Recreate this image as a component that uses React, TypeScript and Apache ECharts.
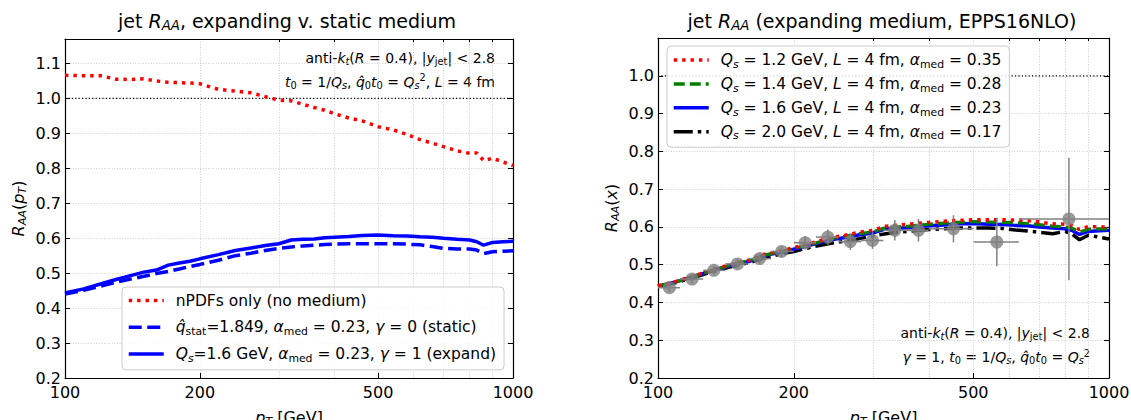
import React, { useEffect, useRef } from "react";
import * as echarts from "echarts";

// ---------------- data ----------------
const PT_GRID = [100, 110, 120, 130, 140, 150, 160, 170, 180, 190, 200, 220, 240, 260, 280, 300, 320, 340, 360, 380, 400, 430, 460, 500, 540, 580, 620, 660, 700, 750, 800, 830, 860, 900, 950, 1000];

const NPDF_ONLY = [1.066, 1.065, 1.065, 1.055, 1.054, 1.056, 1.05, 1.046, 1.045, 1.044, 1.042, 1.026, 1.021, 1.016, 1.005, 0.995, 0.993, 0.983, 0.974, 0.966, 0.956, 0.944, 0.936, 0.919, 0.91, 0.897, 0.882, 0.872, 0.862, 0.85, 0.843, 0.844, 0.822, 0.829, 0.818, 0.808];
const STATIC_QHAT = [0.44, 0.451, 0.463, 0.474, 0.483, 0.491, 0.499, 0.505, 0.512, 0.519, 0.525, 0.537, 0.55, 0.557, 0.565, 0.571, 0.575, 0.578, 0.58, 0.582, 0.583, 0.584, 0.584, 0.584, 0.584, 0.583, 0.581, 0.576, 0.571, 0.569, 0.569, 0.566, 0.556, 0.561, 0.563, 0.564];
const EXPAND_QS16 = [0.443, 0.455, 0.469, 0.482, 0.493, 0.503, 0.509, 0.523, 0.529, 0.534, 0.541, 0.553, 0.565, 0.572, 0.579, 0.584, 0.595, 0.597, 0.598, 0.601, 0.603, 0.605, 0.608, 0.609, 0.607, 0.606, 0.604, 0.603, 0.6, 0.597, 0.595, 0.59, 0.58, 0.588, 0.59, 0.591];
const EXPAND_QS12 = [0.444, 0.456, 0.47, 0.483, 0.495, 0.505, 0.512, 0.526, 0.532, 0.538, 0.545, 0.558, 0.571, 0.578, 0.586, 0.591, 0.602, 0.605, 0.607, 0.61, 0.612, 0.615, 0.617, 0.619, 0.619, 0.619, 0.618, 0.617, 0.613, 0.608, 0.607, 0.603, 0.593, 0.601, 0.6, 0.6];
const EXPAND_QS14 = [0.443, 0.455, 0.469, 0.482, 0.494, 0.504, 0.511, 0.524, 0.53, 0.536, 0.543, 0.555, 0.568, 0.575, 0.582, 0.587, 0.598, 0.6, 0.602, 0.605, 0.607, 0.61, 0.612, 0.614, 0.613, 0.612, 0.611, 0.609, 0.606, 0.602, 0.6, 0.596, 0.586, 0.594, 0.595, 0.595];
const EXPAND_QS20 = [0.442, 0.453, 0.466, 0.479, 0.49, 0.499, 0.506, 0.516, 0.523, 0.53, 0.535, 0.547, 0.556, 0.562, 0.569, 0.576, 0.582, 0.586, 0.588, 0.591, 0.593, 0.595, 0.597, 0.597, 0.597, 0.596, 0.592, 0.589, 0.586, 0.582, 0.588, 0.58, 0.566, 0.578, 0.573, 0.568];

const ATLAS_PT = [106, 119, 133, 150, 168, 188, 212, 238, 267, 299, 335, 378, 452, 564, 815];
const ATLAS_RAA = [0.439, 0.462, 0.485, 0.502, 0.516, 0.535, 0.558, 0.573, 0.561, 0.564, 0.591, 0.591, 0.595, 0.56, 0.621];
const ATLAS_ERR = [0.012, 0.012, 0.012, 0.013, 0.014, 0.015, 0.018, 0.02, 0.022, 0.022, 0.027, 0.03, 0.036, 0.064, 0.162];
const ATLAS_BIN_LO = [100, 112, 126, 141, 158, 178, 200, 224, 251, 282, 316, 355, 398, 501, 631];
const ATLAS_BIN_HI = [112, 126, 141, 158, 178, 200, 224, 251, 282, 316, 355, 398, 501, 631, 1000];

const X_MAJOR = [100, 200, 500, 1000];
const X_MINOR = [300, 400, 600, 700, 800, 900];
const Y_TICKS_L = [0.2, 0.3, 0.4, 0.5, 0.6, 0.7, 0.8, 0.9, 1.0, 1.1];
const Y_TICKS_R = [0.2, 0.3, 0.4, 0.5, 0.6, 0.7, 0.8, 0.9, 1.0];
const UNITY = [[100, 1], [1000, 1]];

// ---------------- names ----------------
const N_NPDF = "nPDFs only (no medium)";
const N_STAT = "qhat_stat static";
const N_EXP = "Qs 1.6 expand";
const N_12 = "Qs 1.2";
const N_14 = "Qs 1.4";
const N_16 = "Qs 1.6";
const N_20 = "Qs 2.0";

const LEGEND_TEXT: Record<string, string> = {
  [N_NPDF]: "{g| }nPDFs only (no medium)",
  [N_STAT]: "{g| }{i|q\u0302}{sub|stat}=1.849, {i|\u03b1}{sub|med} = 0.23, {i|\u03b3} = 0 (static)",
  [N_EXP]: "{g| }{i|Q}{isub|s}=1.6 GeV, {i|\u03b1}{sub|med} = 0.23, {i|\u03b3} = 1 (expand)",
  [N_12]: "{g| }{i|Q}{isub|s} = 1.2 GeV, {i|L} = 4 fm, {i|\u03b1}{sub|med} = 0.35",
  [N_14]: "{g| }{i|Q}{isub|s} = 1.4 GeV, {i|L} = 4 fm, {i|\u03b1}{sub|med} = 0.28",
  [N_16]: "{g| }{i|Q}{isub|s} = 1.6 GeV, {i|L} = 4 fm, {i|\u03b1}{sub|med} = 0.23",
  [N_20]: "{g| }{i|Q}{isub|s} = 2.0 GeV, {i|L} = 4 fm, {i|\u03b1}{sub|med} = 0.17",
};

const FONT = "DejaVu Sans";

function mkRich(size: number, lh: number, graphic = false) {
  const s = size * 0.7;
  const col = graphic ? { fill: "#000" } : { color: "#000" };
  const base: any = { fontFamily: FONT, lineHeight: lh, ...col };
  return {
    r: { ...base, fontSize: size },
    i: { ...base, fontSize: size, fontStyle: "italic" },
    sub: { ...base, fontSize: s, padding: [size * 0.55, 0, 0, 0] },
    isub: { ...base, fontSize: s, fontStyle: "italic", padding: [size * 0.55, 0, 0, 0] },
    sup: { ...base, fontSize: s, padding: [0, 0, size * 0.55, 0] },
    g: { ...base, fontSize: size, width: 7 },
  };
}

const zip = (xs: number[], ys: number[]) => xs.map((x, i) => [x, ys[i]]);

const GRID_LINE = { color: "#c4c4c4", width: 0.8, type: [1, 1.6] };
const AX_LINE = { color: "#000", width: 1.2 };

function xAxes(g: number) {
  const common = { type: "log", logBase: 10, gridIndex: g, min: 100, max: 1000, offset: 0 };
  const axRich = mkRich(16, 20);
  return [
    {
      ...common,
      position: "bottom",
      axisLine: { show: true, onZero: false, lineStyle: AX_LINE },
      axisTick: { show: true, inside: true, length: 5, customValues: X_MAJOR, lineStyle: { color: "#000", width: 1 } },
      axisLabel: {
        show: true,
        customValues: X_MAJOR,
        margin: 6,
        fontSize: 16,
        fontFamily: FONT,
        color: "#000",
        formatter: (v: number) => String(Math.round(v)),
      },
      splitLine: { show: true, lineStyle: GRID_LINE },
      minorTick: { show: false },
      name: "{i|p}{isub|T} [GeV]",
      nameLocation: "middle",
      nameGap: 29,
      nameTextStyle: { fontSize: 16, fontFamily: FONT, color: "#000", lineHeight: 20, rich: axRich },
    },
    {
      ...common,
      position: "top",
      axisLine: { show: true, onZero: false, lineStyle: AX_LINE },
      axisTick: { show: true, inside: true, length: 3, customValues: X_MINOR, lineStyle: { color: "#000", width: 1 } },
      axisLabel: { show: false },
      splitLine: { show: true, lineStyle: GRID_LINE },
    },
    {
      ...common,
      position: "bottom",
      axisLine: { show: false },
      axisTick: { show: true, inside: true, length: 5, customValues: X_MAJOR, lineStyle: { color: "#000", width: 1 } },
      axisLabel: { show: false },
      splitLine: { show: false },
    },
    {
      ...common,
      position: "top",
      axisLine: { show: false },
      axisTick: { show: true, inside: true, length: 3, customValues: X_MINOR, lineStyle: { color: "#000", width: 1 } },
      axisLabel: { show: false },
      splitLine: { show: false },
    },
  ];
}

function yAxes(g: number, max: number, ticks: number[], name: string) {
  const axRich = mkRich(16, 20);
  return [
    {
      type: "value",
      gridIndex: g,
      min: 0.2,
      max,
      position: "left",
      axisLine: { show: true, onZero: false, lineStyle: AX_LINE },
      axisTick: { show: true, inside: true, length: 5, customValues: ticks, lineStyle: { color: "#000", width: 1 } },
      axisLabel: {
        show: true,
        customValues: ticks,
        margin: 4,
        fontSize: 16,
        fontFamily: FONT,
        color: "#000",
        formatter: (v: number) => v.toFixed(1),
      },
      splitLine: { show: true, lineStyle: GRID_LINE },
      name,
      nameLocation: "middle",
      nameGap: 37,
      nameTextStyle: { fontSize: 16, fontFamily: FONT, color: "#000", lineHeight: 20, rich: axRich },
    },
    {
      type: "value",
      gridIndex: g,
      min: 0.2,
      max,
      position: "right",
      axisLine: { show: true, onZero: false, lineStyle: AX_LINE },
      axisTick: { show: true, inside: true, length: 5, customValues: ticks, lineStyle: { color: "#000", width: 1 } },
      axisLabel: { show: false },
      splitLine: { show: false },
    },
  ];
}

function lineSeries(name: string, xi: number, yi: number, ys: number[], color: string, width: number, type: any, z = 3) {
  return {
    type: "line",
    name,
    xAxisIndex: xi,
    yAxisIndex: yi,
    data: zip(PT_GRID, ys),
    symbol: "none",
    showSymbol: false,
    color,
    itemStyle: { color },
    lineStyle: { color, width, type, cap: "butt" },
    z,
    clip: true,
  };
}

function legendBox(data: string[], left: number, top: number, itemGap: number, padding: number[]) {
  return {
    data,
    orient: "vertical",
    left,
    top,
    itemWidth: 35,
    itemHeight: 14,
    itemGap,
    padding,
    selectedMode: false,
    backgroundColor: "rgba(255,255,255,0.85)",
    borderColor: "#cccccc",
    borderWidth: 1,
    borderRadius: 4,
    itemStyle: { opacity: 0 },
    lineStyle: { width: 3.5 },
    formatter: (name: string) => LEGEND_TEXT[name] || name,
    textStyle: { fontFamily: FONT, fontSize: 15.5, color: "#000", lineHeight: 20, rich: mkRich(15.5, 20) },
  };
}

export default function App() {
  const ref = useRef<HTMLDivElement>(null);

  useEffect(() => {
    if (!ref.current) return;
    const chart = echarts.init(ref.current, undefined, { renderer: "svg" });

    const richTitle = mkRich(19, 24, true);
    const richAnn = mkRich(14, 18, true);

    const atlasData = ATLAS_PT.map((p, i) => [p, ATLAS_RAA[i], ATLAS_BIN_LO[i], ATLAS_BIN_HI[i], ATLAS_ERR[i]]);

    const txt = (x: number, y: number, text: string, rich: any, size: number, lh: number, align: string) => ({
      type: "text",
      x,
      y,
      style: { text, rich, fontFamily: FONT, fontSize: size, fill: "#000", align, verticalAlign: "middle", lineHeight: lh },
    });

    const option: any = {
      animation: false,
      backgroundColor: "#ffffff",
      textStyle: { fontFamily: FONT },
      grid: [
        { left: 65, top: 39, width: 448, height: 339, containLabel: false, outerBoundsMode: "none" },
        { left: 658, top: 38, width: 451, height: 340, containLabel: false, outerBoundsMode: "none" },
      ],
      xAxis: [...xAxes(0), ...xAxes(1)],
      yAxis: [
        ...yAxes(0, 1.17, Y_TICKS_L, "{i|R}{isub|AA}({i|p}{isub|T})"),
        ...yAxes(1, 1.1, Y_TICKS_R, "{i|R}{isub|AA}({i|x})"),
      ],
      legend: [
        legendBox([N_NPDF, N_STAT, N_EXP], 122, 287, 6.7, [3.5, 8, 6, 5]),
        legendBox([N_12, N_14, N_16, N_20], 667, 46, 3.9, [4, 8, 5.5, 5]),
      ],
      graphic: [
        txt(287, 20.5, "jet {i|R}{isub|AA}, expanding v. static medium", richTitle, 19, 24, "center"),
        txt(882, 20.5, "jet {i|R}{isub|AA} (expanding medium, EPPS16NLO)", richTitle, 19, 24, "center"),
        txt(495, 58, "anti-{i|k}{isub|t}({i|R} = 0.4), |{i|y}{sub|jet}| < 2.8", richAnn, 14, 18, "right"),
        txt(495, 81.5, "{i|t}{sub|0} = 1/{i|Q}{isub|s}, {i|q\u0302}{sub|0}{i|t}{sub|0} = {i|Q}{isub|s}{sup|2}, {i|L} = 4 fm", richAnn, 14, 18, "right"),
        txt(1090, 333, "anti-{i|k}{isub|t}({i|R} = 0.4), |{i|y}{sub|jet}| < 2.8", richAnn, 14, 18, "right"),
        txt(1090, 357, "{i|\u03b3} = 1, {i|t}{sub|0} = 1/{i|Q}{isub|s}, {i|q\u0302}{sub|0}{i|t}{sub|0} = {i|Q}{isub|s}{sup|2}", richAnn, 14, 18, "right"),
      ],
      series: [
        // left panel
        {
          type: "line",
          name: "unity-left",
          xAxisIndex: 0,
          yAxisIndex: 0,
          data: UNITY,
          symbol: "none",
          lineStyle: { color: "#000", width: 1.2, type: [1.2, 2.2] },
          silent: true,
          z: 2,
        },
        lineSeries(N_STAT, 0, 0, STATIC_QHAT, "#0000ff", 3.5, [13, 5.5], 3),
        lineSeries(N_EXP, 0, 0, EXPAND_QS16, "#0000ff", 3.5, "solid", 4),
        lineSeries(N_NPDF, 0, 0, NPDF_ONLY, "#ff0000", 3.5, [3.4, 5], 5),
        // right panel
        {
          type: "line",
          name: "unity-right",
          xAxisIndex: 4,
          yAxisIndex: 2,
          data: UNITY,
          symbol: "none",
          lineStyle: { color: "#000", width: 1.2, type: [1.2, 2.2] },
          silent: true,
          z: 2,
        },
        lineSeries(N_20, 4, 2, EXPAND_QS20, "#000000", 3.5, [19, 5, 3.5, 5], 3),
        lineSeries(N_16, 4, 2, EXPAND_QS16, "#0000ff", 3.5, "solid", 4),
        lineSeries(N_14, 4, 2, EXPAND_QS14, "#008000", 3.2, [11, 5], 5),
        lineSeries(N_12, 4, 2, EXPAND_QS12, "#ff0000", 3.5, [3.4, 5], 6),
        {
          type: "custom",
          name: "ATLAS errors",
          xAxisIndex: 4,
          yAxisIndex: 2,
          data: atlasData,
          encode: { x: 0, y: 1 },
          clip: true,
          z: 7,
          silent: true,
          renderItem: (params: any, api: any) => {
            const x = api.value(0);
            const y = api.value(1);
            const lo = api.value(2);
            const hi = api.value(3);
            const e = api.value(4);
            const l = api.coord([lo, y]);
            const r = api.coord([hi, y]);
            const t = api.coord([x, y + e]);
            const b = api.coord([x, y - e]);
            const st = { stroke: "#808080", lineWidth: 1.5 };
            return {
              type: "group",
              children: [
                { type: "line", shape: { x1: l[0], y1: l[1], x2: r[0], y2: r[1] }, style: st },
                { type: "line", shape: { x1: t[0], y1: t[1], x2: b[0], y2: b[1] }, style: st },
              ],
            };
          },
        },
        {
          type: "scatter",
          name: "ATLAS",
          xAxisIndex: 4,
          yAxisIndex: 2,
          data: zip(ATLAS_PT, ATLAS_RAA),
          symbol: "circle",
          symbolSize: 13,
          itemStyle: { color: "#808080" },
          z: 8,
          silent: true,
        },
      ],
    };

    chart.setOption(option);
    return () => {
      chart.dispose();
    };
  }, []);

  return (
    <div
      ref={ref}
      style={{ position: "fixed", left: 0, top: 0, width: 1131, height: 420, background: "#fff" }}
    />
  );
}
